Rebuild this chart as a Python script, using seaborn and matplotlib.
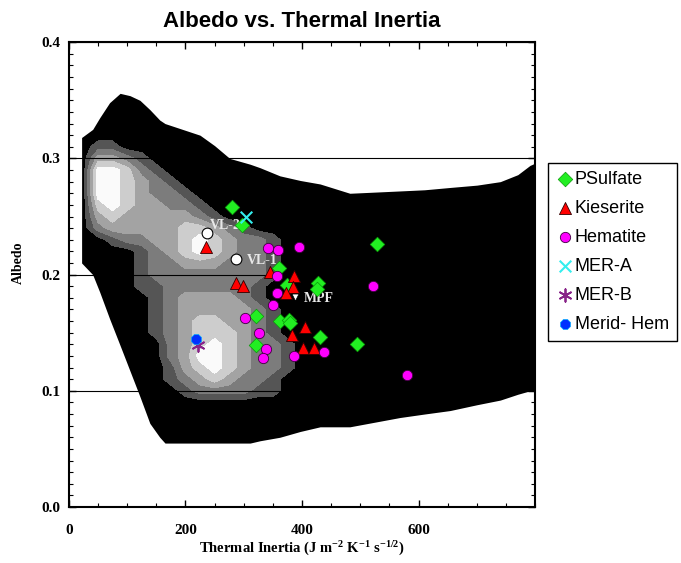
import numpy as np
import matplotlib
matplotlib.use("Agg")
import matplotlib.pyplot as plt
import seaborn as sns
from matplotlib.ticker import MultipleLocator, FuncFormatter

#######################
# DATOS
#######################

# contorno exterior (negro) de la distribucion: borde superior e inferior
edge_ti = [22, 41, 53, 70, 88, 105, 122, 139, 156, 165, 195, 225, 250, 276, 311, 328,
           362, 397, 431, 482, 525, 568, 610, 654, 700, 740, 770, 791, 800]
edge_top = [0.318, 0.325, 0.335, 0.348, 0.356, 0.354, 0.350, 0.342, 0.333, 0.330, 0.325,
            0.320, 0.311, 0.300, 0.295, 0.292, 0.285, 0.281, 0.278, 0.270, 0.271, 0.272,
            0.273, 0.275, 0.277, 0.280, 0.286, 0.294, 0.296]
edge_bottom = [0.210, 0.200, 0.185, 0.162, 0.139, 0.117, 0.095, 0.072, 0.060, 0.055,
               0.055, 0.055, 0.055, 0.055, 0.055, 0.057, 0.060, 0.065, 0.069, 0.069,
               0.073, 0.077, 0.080, 0.083, 0.088, 0.092, 0.097, 0.100, 0.100]

# niveles interiores de densidad (1-6) leidos del mapa
# columnas: TI = 0, 25, ..., 800 ; filas: albedo 0.40 -> 0.00
grid_ti = np.arange(0, 801, 25)
grid_albedo = np.round(np.arange(0.40, -0.001, -0.01), 2)
density_rows = [
    "00000000000 00000000000 00000000000",  # 0.40
    "00000000000 00000000000 00000000000",
    "00000000000 00000000000 00000000000",
    "00000000000 00000000000 00000000000",
    "00000000000 00000000000 00000000000",
    "00011100000 00000000000 00000000000",  # 0.35
    "00011100000 00000000000 00000000000",
    "00111111000 00000000000 00000000000",
    "01111111110 00000000000 00000000000",
    "01221111111 00000000000 00000000000",
    "01443211111 10000000000 00000000000",  # 0.30
    "01665321111 11110000000 00000000011",
    "01665432111 11111100000 00000111111",
    "01665433211 11111111111 11111111111",
    "01565443321 11111111111 11111111111",
    "01454444432 11111111111 11111111111",  # 0.25
    "01344444554 32111111111 11111111111",
    "01123344565 43321111111 11111111111",
    "01111234565 43321111111 11111111111",
    "01111233444 33321111111 11111111111",
    "00111233333 33321111111 11111111111",  # 0.20
    "00111223333 33211111111 11111111111",
    "00011123444 43211111111 11111111111",
    "00011123444 44321111111 11111111111",
    "00011123455 44321111111 11111111111",
    "00001123455 54321111111 11111111111",  # 0.15
    "00001113456 54332111111 11111111111",
    "00001113466 54332111111 11111111111",
    "00000112456 54332111111 11111111111",
    "00000112345 43321111111 11111111111",
    "00000111233 33221111111 11111111111",  # 0.10
    "00000111111 11111111111 11111111000",
    "00000011111 11111111111 11100000000",
    "00000011111 11111111100 00000000000",
    "00000001111 11111000000 00000000000",
    "00000000000 00000000000 00000000000",  # 0.05
    "00000000000 00000000000 00000000000",
    "00000000000 00000000000 00000000000",
    "00000000000 00000000000 00000000000",
    "00000000000 00000000000 00000000000",
    "00000000000 00000000000 00000000000",  # 0.00
]
gray_colors = ["#555555", "#7c7c7c", "#a3a3a3", "#cdcdcd", "#fafafa"]

psulfate_ti = [280, 297, 360, 374, 427, 426, 321, 362, 378, 380, 431, 321, 494, 529]
psulfate_albedo = [0.258, 0.243, 0.206, 0.191, 0.193, 0.188, 0.164, 0.160, 0.161, 0.158, 0.146, 0.139, 0.140, 0.226]

kieserite_ti = [235, 287, 299, 345, 386, 385, 372, 405, 383, 402, 421]
kieserite_albedo = [0.224, 0.193, 0.190, 0.202, 0.199, 0.189, 0.184, 0.155, 0.148, 0.137, 0.137]

hematite_ti = [341, 358, 395, 357, 357, 350, 302, 326, 338, 333, 386, 438, 522, 580]
hematite_albedo = [0.223, 0.221, 0.224, 0.199, 0.184, 0.174, 0.163, 0.150, 0.136, 0.128, 0.130, 0.133, 0.190, 0.114]

mer_a_ti = [304]
mer_a_albedo = [0.250]
mer_b_ti = [222]
mer_b_albedo = [0.139]
merid_ti = [218]
merid_albedo = [0.145]

# sitios de aterrizaje
vl_names = ["VL-2", "VL-1"]
vl_ti = [237, 287]
vl_albedo = [0.236, 0.213]
mpf_ti = [388]
mpf_albedo = [0.181]

#######################
# FIGURA
#######################

sns.set_theme(style="ticks")
plt.rcParams["font.family"] = ["Liberation Serif", "DejaVu Serif"]
plt.rcParams["mathtext.default"] = "regular"
plt.rcParams["text.color"] = "black"
plt.rcParams["axes.labelcolor"] = "black"
plt.rcParams["xtick.color"] = "black"
plt.rcParams["ytick.color"] = "black"
sans = ["Liberation Sans", "DejaVu Sans"]

fig, ax = plt.subplots(figsize=(6.81, 5.63), dpi=100)
fig.subplots_adjust(left=0.101, right=0.786, bottom=0.0995, top=0.925)

# fondo: zona negra + niveles grises
ax.fill_between(edge_ti, edge_bottom, edge_top, color="black", linewidth=0, zorder=1)
density = np.array([[int(ch) for ch in row.replace(" ", "")] for row in density_rows])
ax.contourf(grid_ti, grid_albedo[::-1], density[::-1],
            levels=[1.5, 2.5, 3.5, 4.5, 5.5, 6.5], colors=gray_colors, zorder=1.5)

sns.scatterplot(x=psulfate_ti, y=psulfate_albedo, marker="D", s=55, color="#22ee22",
                edgecolor="#0a9a0a", linewidth=0.5, label="PSulfate", ax=ax, zorder=3)
sns.scatterplot(x=kieserite_ti, y=kieserite_albedo, marker="^", s=75, color="#ff0000",
                edgecolor="#300000", linewidth=0.6, label="Kieserite", ax=ax, zorder=3)
sns.scatterplot(x=hematite_ti, y=hematite_albedo, marker="o", s=55, color="#ff00ff",
                edgecolor="#400040", linewidth=0.6, label="Hematite", ax=ax, zorder=3)
sns.scatterplot(x=mer_a_ti, y=mer_a_albedo, marker="x", s=70, color="#33eeee",
                linewidth=1.5, label="MER-A", ax=ax, zorder=3)
sns.scatterplot(x=mer_b_ti, y=mer_b_albedo, marker=(6, 2, 0), s=80, color="#882288",
                linewidth=1.3, label="MER-B", ax=ax, zorder=3)
sns.scatterplot(x=merid_ti, y=merid_albedo, marker="8", s=60, color="#0030ff",
                edgecolor="#00aaff", linewidth=0.5, label="Merid- Hem", ax=ax, zorder=3)

# sitios VL y MPF
ax.scatter(vl_ti, vl_albedo, marker="o", s=60, color="white", edgecolor="black",
           linewidth=0.8, zorder=3)
ax.scatter(mpf_ti, mpf_albedo, marker="v", s=25, color="white", edgecolor="black",
           linewidth=0.5, zorder=3)
site_offsets = [(2, 5), (8, -1)]
for name, x, y, off in zip(vl_names, vl_ti, vl_albedo, site_offsets):
    ax.annotate(name, (x, y), xytext=off, textcoords="offset points", color="#e8e8e8",
                fontsize=10, fontweight="bold", va="center", zorder=2.8)
ax.annotate("MPF", (mpf_ti[0], mpf_albedo[0]), xytext=(6, -1), textcoords="offset points",
            color="#e8e8e8", fontsize=10, fontweight="bold", va="center", zorder=2.8)

ax.set_xlim(0, 800)
ax.set_ylim(0, 0.4)
ax.set_xticks([0, 200, 400, 600])
ax.xaxis.set_minor_locator(MultipleLocator(50))
ax.yaxis.set_major_locator(MultipleLocator(0.1))
ax.yaxis.set_minor_locator(MultipleLocator(0.01))
ax.xaxis.set_major_formatter(FuncFormatter(lambda v, p: f"{v:.0f}"))
ax.yaxis.set_major_formatter(FuncFormatter(lambda v, p: f"{v:.1f}"))

ax.set_axisbelow(False)
ax.grid(axis="y", color="black", linewidth=0.8)
ax.tick_params(which="both", direction="in", top=True, right=True, color="black")
ax.tick_params(which="major", length=5, width=1, labelsize=11, pad=6)
ax.tick_params(which="minor", length=3, width=0.8)
ax.tick_params(axis="x", which="major", pad=12)
for lab in ax.get_xticklabels() + ax.get_yticklabels():
    lab.set_fontweight("bold")
for sp in ax.spines.values():
    sp.set_linewidth(1.5)
    sp.set_color("black")

ax.set_xlabel(r"Thermal Inertia (J m$^{-2}$ K$^{-1}$ s$^{-1/2}$)", fontsize=10.5,
              fontweight="bold", labelpad=2)
ax.set_ylabel("Albedo", fontsize=10, fontweight="bold")
ax.yaxis.set_label_coords(-0.095, 0.525)
ax.set_title("Albedo vs. Thermal Inertia", fontsize=16, fontweight="bold",
             family=sans, pad=11, color="black")

leg = ax.legend(loc="upper left", bbox_to_anchor=(1.028, 0.74), borderaxespad=0,
                frameon=True, fancybox=False, edgecolor="black", framealpha=1,
                prop={"family": sans, "size": 13},
                handletextpad=0.1, handlelength=0.9, labelspacing=0.66, borderpad=0.45)
leg.get_frame().set_linewidth(1.0)

plt.savefig("out.png", dpi=100)
